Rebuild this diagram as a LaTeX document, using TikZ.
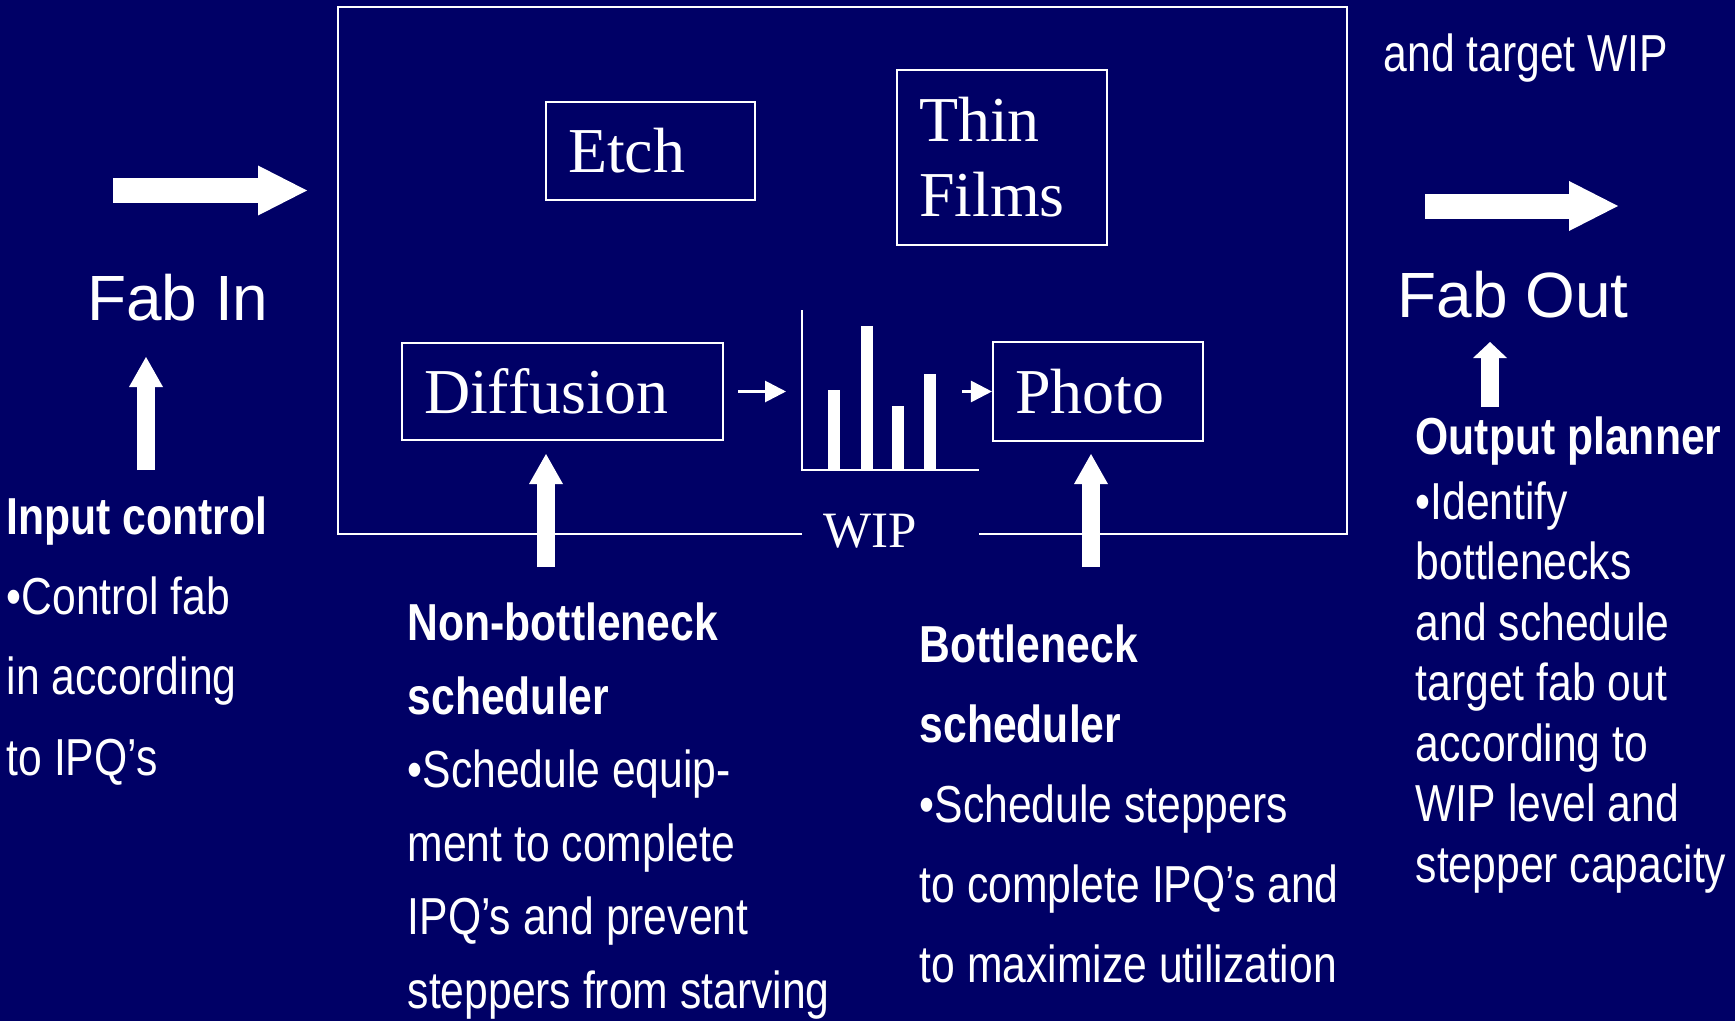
\documentclass[tikz,border=0pt]{standalone}
\usepackage{fontspec}
\setmainfont{Liberation Serif}
\setsansfont{Liberation Sans}
\newfontfamily\estrecha[FakeStretch=0.82]{Liberation Sans}
\usepackage{tikz}
\usetikzlibrary{positioning,arrows.meta}
\definecolor{fondo}{RGB}{0,0,102}

\begin{document}
\begin{tikzpicture}[
  caja/.style={draw=white, line width=0.6pt, text=white, align=left,
               inner xsep=2.2mm, inner ysep=0pt,
               font=\fontsize{18.2}{21.3}\selectfont},
  titulo/.style={text=white, inner sep=0pt, anchor=base west,
                 font=\sffamily\fontsize{18.2}{21.8}\selectfont},
  expl/.style={text=white, inner sep=0pt, anchor=base west, align=left},
  flechita/.style={white, line width=0.8pt,
                   -{Triangle[length=2.1mm,width=2.1mm]}},
  flechagrande/.style={white, line width=1.8mm,
                       -{Triangle[length=3mm,width=3.4mm,line width=0pt]}},
  flechacorta/.style={white, line width=1.8mm,
                      -{Triangle[length=1.6mm,width=3.4mm,line width=0pt]}},
  flechaancha/.style={white, line width=2.5mm,
                      -{Triangle[length=4.9mm,width=5mm,line width=0pt]}},
]
% ---- Fondo ---------------------------------------------------------------
\fill[fondo] (0,0) rectangle (17.35,10.21);
\useasboundingbox (0,0) rectangle (17.35,10.21);
% ---- Fab -----------------------------------------------------------------
\draw[white, line width=0.6pt] (8.02,4.87) -- (3.38,4.87) -- (3.38,10.14)
  -- (13.47,10.14) -- (13.47,4.87) -- (9.79,4.87);
\node[caja, text width=1.65cm, minimum width=2.09cm, minimum height=0.98cm]
  (etch) at (6.505,8.70) {Etch};
\node[caja, text width=1.66cm, minimum width=2.10cm, minimum height=1.75cm]
  (pelicula) at (10.02,8.635) {Thin\\Films};
\node[caja, text width=2.77cm, minimum width=3.21cm, minimum height=0.97cm]
  (difusion) at (5.625,6.295) {Diffusion};
\node[caja, text width=1.66cm, minimum width=2.10cm, minimum height=0.99cm]
  (foto) at (10.98,6.295) {Photo};
% ---- WIP -----------------------------------------------------------------
\coordinate (eje) at (8.02,5.51);
\draw[white, line width=0.6pt] (8.02,7.11) -- (eje) -- (9.79,5.51);
\foreach \x/\h in {8.28/0.80, 8.61/1.44, 8.92/0.64, 9.24/0.96} {
  \fill[white] (\x,5.51) rectangle ++(0.12,\h);
}
\node[text=white, inner sep=0pt, anchor=base,
      font=\fontsize{14.5}{17}\selectfont] (wip) at (8.705,4.74) {WIP};
\draw[flechita] ([xshift=1.4mm]difusion.east)
  -- ([xshift=-1.6mm]difusion.east -| eje);
\coordinate (salidawip) at (9.62,6.295);
\draw[flechita] (salidawip) -- (foto.west);
% ---- Fab In / Fab Out ----------------------------------------------------
\node[titulo] (fabin) at (0.865,7.01) {Fab In};
\node[titulo] (fabout) at (13.97,7.04) {Fab Out};
\coordinate (entra) at (1.13,8.305);
\draw[flechaancha] (entra) -- ++(1.94,0);
\coordinate (sale) at (14.25,8.15);
\draw[flechaancha] (sale) -- ++(1.93,0);
\coordinate (pieIn) at (1.46,5.51);
\draw[flechagrande] (pieIn) -- ++(0,1.13);
\coordinate (pieOut) at (14.90,6.14);
\draw[flechacorta] (pieOut) -- ++(0,0.65);
\coordinate (pieDif) at (5.46,4.54);
\draw[flechagrande] (pieDif) -- ([yshift=-1.3mm]difusion.south -| pieDif);
\coordinate (pieFoto) at (10.91,4.54);
\draw[flechagrande] (pieFoto) -- ([yshift=-1.2mm]foto.south -| pieFoto);
% ---- Textos (anclados en la ultima linea) --------------------------------
\node[expl, font=\estrecha\fontsize{14.8}{22.8}\selectfont] (entrada)
  at (0.06,2.46) {\textbf{Input control}\\\textbullet Control fab\\
  in according\\to IPQ’s};
\node[expl, font=\estrecha\fontsize{14.8}{20.9}\selectfont] (nocuello)
  at (4.07,0.13) {\textbf{Non-bottleneck}\\\textbf{scheduler}\\
  \textbullet Schedule equip-\\ment to complete\\IPQ’s and prevent\\
  steppers from starving};
\node[expl, font=\estrecha\fontsize{14.8}{22.7}\selectfont] (cuello)
  at (9.19,0.39) {\textbf{Bottleneck}\\\textbf{scheduler}\\
  \textbullet Schedule steppers\\to complete IPQ’s and\\
  to maximize utilization};
\node[expl, font=\estrecha\fontsize{14.8}{17.2}\selectfont] (salida)
  at (14.15,1.39) {\textbf{Output planner}\\[1.3pt]\textbullet Identify\\
  bottlenecks\\and schedule\\target fab out\\according to\\WIP level and\\
  stepper capacity};
\node[expl, font=\estrecha\fontsize{14.8}{17.2}\selectfont] (meta)
  at (13.83,9.49) {and target WIP};
\end{tikzpicture}
\end{document}
